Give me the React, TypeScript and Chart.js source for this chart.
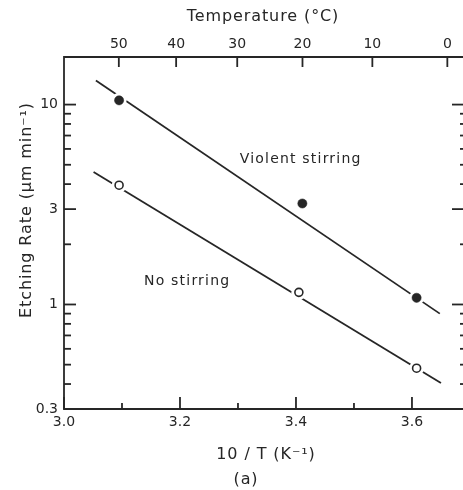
import { useEffect, useRef } from 'react';
import { Chart, registerables } from 'chart.js';

Chart.register(...registerables);

const INK = '#262626';
const FONT = "'DejaVu Sans', sans-serif";

// Measured points (10^3/T in K^-1, etching rate in µm/min)
const VIOLENT_X = [3.095, 3.411, 3.608];
const VIOLENT_Y = [10.5, 3.2, 1.08];
const NOSTIR_X = [3.095, 3.405, 3.608];
const NOSTIR_Y = [3.95, 1.15, 0.48];

// Fitted straight lines (end points)
const VIOLENT_FIT_X = [3.055, 3.648];
const VIOLENT_FIT_Y = [13.2, 0.9];
const NOSTIR_FIT_X = [3.051, 3.65];
const NOSTIR_FIT_Y = [4.6, 0.405];

// Axis ticks
const X_TICKS = [3.0, 3.1, 3.2, 3.3, 3.4, 3.5, 3.6];
const X_LABELED = [3.0, 3.2, 3.4, 3.6];
const Y_TICKS = [0.3, 0.4, 0.5, 0.6, 0.7, 0.8, 0.9, 1, 2, 3, 4, 5, 6, 7, 8, 9, 10];
const Y_LABELED = [0.3, 1, 3, 10];
const TEMP_TICKS = [50, 40, 30, 20, 10, 0];

// Text labels
const SERIES_LABELS = ['Violent stirring', 'No stirring'];
const SERIES_LABEL_X = [3.303, 3.138];
const SERIES_LABEL_Y = [5.33, 1.3];

const toPts = (xs: number[], ys: number[]) => xs.map((x, i) => ({ x, y: ys[i] }));
const tempToInvT = (t: number) => 1000 / (t + 273.15);
const near = (a: number, b: number) => Math.abs(a - b) < 1e-9;

const decorPlugin = {
  id: 'decor',
  beforeDraw(chart: any) {
    const ctx = chart.ctx;
    ctx.save();
    ctx.fillStyle = '#ffffff';
    ctx.fillRect(0, 0, chart.width, chart.height);
    ctx.restore();
  },
  afterDraw(chart: any) {
    const ctx = chart.ctx as CanvasRenderingContext2D;
    const { left, right, top, bottom } = chart.chartArea;
    const xs = chart.scales.x;
    const xt = chart.scales.x2;
    const ys = chart.scales.y;
    ctx.save();
    ctx.strokeStyle = INK;
    ctx.lineWidth = 1.8;
    ctx.lineCap = 'butt';
    const seg = (x1: number, y1: number, x2: number, y2: number) => {
      ctx.beginPath();
      ctx.moveTo(x1, y1);
      ctx.lineTo(x2, y2);
      ctx.stroke();
    };
    // axis lines
    seg(left, top, right, top);
    seg(left, bottom, right, bottom);
    seg(left, top - 0.9, left, bottom + 0.9);

    // bottom ticks (inward)
    X_TICKS.forEach((v) => {
      const px = xs.getPixelForValue(v);
      const len = X_LABELED.some((m) => near(m, v)) ? 12 : 6;
      seg(px, bottom, px, bottom - len);
    });
    // top temperature ticks
    TEMP_TICKS.forEach((t) => {
      const px = xt.getPixelForValue(tempToInvT(t));
      seg(px, top, px, top + 10);
    });
    // left & right ticks
    Y_TICKS.forEach((v) => {
      if (near(v, 0.3)) return;
      const py = ys.getPixelForValue(v);
      const major = Y_LABELED.some((m) => near(m, v));
      seg(left, py, left + (major ? 12 : 7), py);
      seg(right, py, right - (major ? 11 : 3), py);
    });

    // series labels
    ctx.fillStyle = INK;
    ctx.font = `14px ${FONT}`;
    (ctx as any).letterSpacing = '1.2px';
    ctx.textAlign = 'left';
    ctx.textBaseline = 'middle';
    SERIES_LABELS.forEach((txt, i) => {
      ctx.fillText(txt, xs.getPixelForValue(SERIES_LABEL_X[i]), ys.getPixelForValue(SERIES_LABEL_Y[i]));
    });

    // titles
    ctx.font = `16px ${FONT}`;
    (ctx as any).letterSpacing = '0.9px';
    ctx.textAlign = 'center';
    ctx.fillText('Temperature (°C)', 263, 17);
    ctx.fillText('10 / T (K⁻¹)', 266, 455);
    ctx.fillText('(a)', 246, 480);
    ctx.save();
    ctx.translate(27, 210);
    ctx.rotate(-Math.PI / 2);
    ctx.fillText('Etching Rate (μm min⁻¹)', 0, 0);
    ctx.restore();
    ctx.restore();
  },
};

export default function App() {
  const ref = useRef<HTMLCanvasElement | null>(null);

  useEffect(() => {
    if (!ref.current) return;
    const tickFont = { family: FONT, size: 14 };
    const zeroPadH = (s: any) => {
      s.paddingLeft = 0;
      s.paddingRight = 0;
    };
    const chart = new Chart(ref.current, {
      type: 'scatter',
      data: {
        datasets: [
          {
            type: 'line',
            data: toPts(VIOLENT_FIT_X, VIOLENT_FIT_Y),
            borderColor: INK,
            borderWidth: 1.8,
            pointRadius: 0,
            fill: false,
            order: 3,
          } as any,
          {
            type: 'line',
            data: toPts(NOSTIR_FIT_X, NOSTIR_FIT_Y),
            borderColor: INK,
            borderWidth: 1.8,
            pointRadius: 0,
            fill: false,
            order: 3,
          } as any,
          {
            data: toPts(VIOLENT_X, VIOLENT_Y),
            pointRadius: 7.5,
            pointBackgroundColor: '#ffffff',
            pointBorderWidth: 0,
            order: 2,
          },
          {
            data: toPts(NOSTIR_X, NOSTIR_Y),
            pointRadius: 7.5,
            pointBackgroundColor: '#ffffff',
            pointBorderWidth: 0,
            order: 2,
          },
          {
            data: toPts(VIOLENT_X, VIOLENT_Y),
            pointRadius: 4.6,
            pointBackgroundColor: INK,
            pointBorderColor: INK,
            pointBorderWidth: 0.5,
            order: 1,
          },
          {
            data: toPts(NOSTIR_X, NOSTIR_Y),
            pointRadius: 4,
            pointBackgroundColor: '#ffffff',
            pointBorderColor: INK,
            pointBorderWidth: 1.6,
            order: 1,
          },
        ],
      },
      options: {
        responsive: false,
        animation: false,
        layout: { padding: 0, autoPadding: false },
        plugins: { legend: { display: false }, tooltip: { enabled: false } },
        scales: {
          x: {
            type: 'linear',
            position: 'bottom',
            min: 3.0,
            max: 3.688,
            grid: { display: false, drawTicks: false },
            border: { display: false },
            afterBuildTicks: (s: any) => {
              s.ticks = X_TICKS.map((v) => ({ value: v }));
            },
            afterFit: (s: any) => {
              s.height = 81;
              zeroPadH(s);
            },
            ticks: {
              autoSkip: false,
              maxRotation: 0,
              padding: 5,
              color: INK,
              font: tickFont,
              callback: (v: any) => (X_LABELED.some((m) => near(m, Number(v))) ? Number(v).toFixed(1) : ''),
            },
          },
          x2: {
            type: 'linear',
            axis: 'x',
            position: 'top',
            min: 3.0,
            max: 3.688,
            grid: { display: false, drawTicks: false },
            border: { display: false },
            afterBuildTicks: (s: any) => {
              s.ticks = TEMP_TICKS.map((t) => ({ value: tempToInvT(t) }));
            },
            afterFit: (s: any) => {
              s.height = 57;
              zeroPadH(s);
            },
            ticks: {
              autoSkip: false,
              maxRotation: 0,
              padding: 4,
              color: INK,
              font: tickFont,
              callback: (_v: any, i: number) => String(TEMP_TICKS[i]),
            },
          } as any,
          y: {
            type: 'logarithmic',
            position: 'left',
            min: 0.3,
            max: 17.3,
            grid: { display: false, drawTicks: false },
            border: { display: false },
            afterBuildTicks: (s: any) => {
              s.ticks = Y_TICKS.map((v) => ({ value: v }));
            },
            afterFit: (s: any) => {
              s.width = 64;
              s.paddingTop = 0;
              s.paddingBottom = 0;
            },
            ticks: {
              autoSkip: false,
              padding: 6,
              color: INK,
              font: tickFont,
              callback: (v: any) => (Y_LABELED.some((m) => near(m, Number(v))) ? String(v) : ''),
            },
          },
        },
      },
      plugins: [decorPlugin],
    });
    return () => chart.destroy();
  }, []);

  return (
    <div style={{ position: 'fixed', left: 0, top: 0, width: 463, height: 490, background: '#fff' }}>
      <canvas ref={ref} width={463} height={490} style={{ display: 'block' }} />
    </div>
  );
}
